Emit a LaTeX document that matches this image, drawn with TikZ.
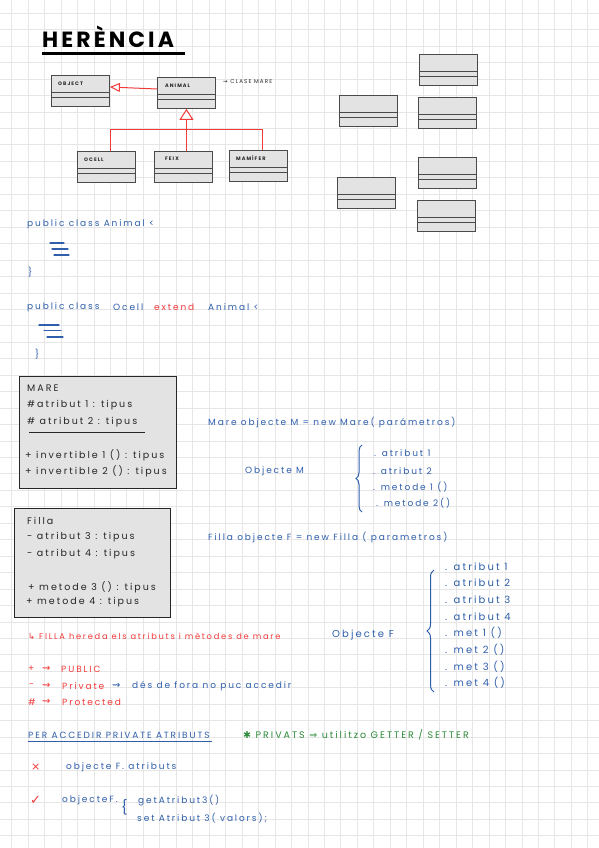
\documentclass[tikz,border=0pt]{standalone}
\usepackage{fontspec}
\setmainfont{Poppins}
\newfontfamily\hand[LetterSpace=21]{Poppins}
\newfontfamily\titlefont[LetterSpace=14]{Poppins}
\newfontfamily\sym{DejaVu Sans}
\usetikzlibrary{arrows.meta,calc,decorations.pathreplacing}
\definecolor{inkblue}{HTML}{2F5FAA}
\definecolor{inkred}{HTML}{F23A3A}
\definecolor{inkgreen}{HTML}{2E8B3A}
\definecolor{inkdark}{HTML}{262626}
\definecolor{gridc}{HTML}{E6E6E6}
\definecolor{boxfill}{HTML}{E3E3E3}
\definecolor{boxline}{HTML}{4A4A4A}
\newcommand\umlbox[3]{%
  \node[uml] (#1) at (#2,#3) {};
  \draw[boxline, line width=0.8pt] ($(#1.north west)+(0,17)$) -- ($(#1.north east)+(0,17)$);
  \draw[boxline, line width=0.8pt] ($(#1.north west)+(0,22)$) -- ($(#1.north east)+(0,22)$);
}
\begin{document}
\begin{tikzpicture}[x=1pt,y=-1pt,
  base/.style={inner sep=0pt, anchor=west, font=\hand\fontsize{9}{11}\selectfont},
  btxt/.style={base, text=inkblue},
  rtxt/.style={base, text=inkred},
  gtxt/.style={base, text=inkgreen},
  ktxt/.style={base, text=inkdark, font=\hand\fontsize{9.5}{11}\selectfont},
  listtxt/.style={btxt, font=\hand\fontsize{10}{12}\selectfont},
  squig/.style={inner sep=0pt, anchor=west, font=\sym\fontsize{10}{11}\selectfont},
  uml/.style={draw=boxline, fill=boxfill, line width=0.9pt, minimum width=58pt, minimum height=31pt, anchor=north west, inner sep=0pt},
  umllabel/.style={inner sep=0pt, anchor=west, text=inkdark, font=\hand\fontsize{5}{6}\selectfont\bfseries},
  bigbox/.style={draw=inkdark, fill=boxfill, line width=1.3pt, anchor=north west, inner sep=0pt},
  inherit/.style={inkred, line width=1pt},
  scribble/.style={inkblue, line width=1.1pt, line cap=round},
]
\useasboundingbox (0,0) rectangle (599,848);
\fill[white] (0,0) rectangle (599,848);
% grid
\foreach \i in {0,...,35} \draw[gridc, line width=0.9pt] ({11.7+16.46*\i},0) -- ({11.7+16.46*\i},848);
\foreach \j in {0,...,50} \draw[gridc, line width=0.9pt] (0,{13.3+16.45*\j}) -- (599,{13.3+16.45*\j});

% title
\node[inner sep=0pt, anchor=west, font=\titlefont\bfseries\fontsize{22}{24}\selectfont] (title) at (42,37) {HERÈNCIA};
\draw[line width=3pt] ($(title.south west)+(0,6)$) -- ($(title.south west)+(143,6)$);

% UML diagram
\umlbox{object}{51}{75}
\umlbox{animal}{157}{77}
\umlbox{ocell}{77}{151}
\umlbox{feix}{154}{151}
\umlbox{mamifer}{229}{150}
\node[umllabel] (objectl) at ($(object.north west)+(7,9)$) {OBJECT};
\node[umllabel] (animall) at ($(animal.north west)+(8,9)$) {ANIMAL};
\node[umllabel] (ocelll) at ($(ocell.north west)+(7,9)$) {OCELL};
\node[umllabel] (feixl) at ($(feix.north west)+(11,8)$) {FEIX};
\node[umllabel] (mamiferl) at ($(mamifer.north west)+(7,8)$) {MAMÍFER};
\node[umllabel, font=\hand\fontsize{5.5}{6}\selectfont] (clasemare) at (223,82) {{\sym ⇝} CLASE MARE};
\draw[inherit, -{Triangle[open, length=10pt, width=9pt]}] ($(animal.north west)+(0,12)$) -- ($(object.north east)+(0,12)$);
\coordinate (jn) at ($(animal.south)+(0,21)$);
\draw[inherit] ($(ocell.north)+(4,0)$) |- (jn) -| ($(mamifer.north)+(4,0)$);
\draw[inherit, -{Triangle[open, length=11pt, width=14pt]}] (animal.south |- feix.north) -- (animal.south);

% empty boxes on the right
\umlbox{ba}{419}{54}
\umlbox{bb}{339}{95}
\umlbox{bc}{418}{97}
\umlbox{bd}{418}{157}
\umlbox{be}{337}{177}
\umlbox{bf}{417}{200}

% code
\node[btxt] (pc1) at (27,224) {public class Animal <};
\draw[scribble] (50,243) -- (64,243);
\draw[scribble] (52,249) -- (68,249);
\draw[scribble] (54,255) -- (69,255);
\node[btxt] (cb1) at (28,272) {\}};
\node[btxt] (pc2a) at (27,307) {public class};
\node[btxt] (pc2b) at (113,307) {Ocell};
\node[rtxt] (pc2c) at (154,307) {extend};
\node[btxt] (pc2d) at (208,307) {Animal <};
\draw[scribble] (39,325) -- (59,325);
\draw[scribble] (44,330.5) -- (61,330.5);
\draw[scribble] (47,337) -- (63,337);
\node[btxt] (cb2) at (35,354) {\}};

% Mare class
\node[bigbox, minimum width=157pt, minimum height=112pt] (mare) at (19,376) {};
\node[ktxt] (m1) at (27,388) {MARE};
\node[ktxt] (m2) at (27,405) {\#atribut 1 : tipus};
\node[ktxt] (m3) at (27,422) {\# atribut 2 : tipus};
\draw[inkdark, line width=1pt] (29,432) -- (145,432);
\node[ktxt] (m4) at (25,455) {+ invertible 1 () : tipus};
\node[ktxt] (m5) at (25,471) {+ invertible 2 () : tipus};

\node[btxt] (newm) at (208,422) {Mare objecte M = new Mare( parámetros)};
\node[btxt] (objm) at (245,471) {Objecte M};
\node[btxt] (om1) at (374,453) {. atribut 1};
\node[btxt] (om2) at (373,471) {. atribut 2};
\node[btxt] (om3) at (373,487) {. metode 1 ()};
\node[btxt] (om4) at (376,503) {. metode 2()};
\draw[inkblue, line width=1pt, decorate, decoration={brace, amplitude=6pt}] (362,512) -- (362,445);

% Filla class
\node[bigbox, minimum width=156pt, minimum height=109pt] (filla) at (14,508) {};
\node[ktxt] (f1) at (27,521) {Filla};
\node[ktxt] (f2) at (27,537) {- atribut 3 : tipus};
\node[ktxt] (f3) at (27,554) {- atribut 4 : tipus};
\node[ktxt] (f4) at (28,587) {+ metode 3 () : tipus};
\node[ktxt] (f5) at (26,602) {+ metode 4 : tipus};

\node[btxt] (newf) at (208,537) {Filla objecte F = new Filla ( parametros)};
\node[btxt, font=\hand\fontsize{10}{12}\selectfont] (objf) at (332,635) {Objecte F};
\node[listtxt] (of1) at (445,567) {. atribut 1};
\node[listtxt] (of2) at (445,583) {. atribut 2};
\node[listtxt] (of3) at (445,600) {. atribut 3};
\node[listtxt] (of4) at (445,617) {. atribut 4};
\node[listtxt] (of5) at (445,633) {. met 1 ()};
\node[listtxt] (of6) at (445,650) {. met 2 ()};
\node[listtxt] (of7) at (445,667) {. met 3 ()};
\node[listtxt] (of8) at (445,683) {. met 4 ()};
\draw[inkblue, line width=1pt, decorate, decoration={brace, amplitude=7pt}] (434,692) -- (434,570);

% notes
\node[rtxt, font=\hand\fontsize{8.3}{10}\selectfont] (herencia) at (28,636) {{\sym ↳} FILLA hereda els atributs i mètodes de mare};
\node[rtxt] (pubs) at (28,669) {+};
\node[squig, text=inkred] (puba) at (42,669) {⇝};
\node[rtxt] (pubw) at (61,669) {PUBLIC};
\node[rtxt] (privs) at (29,686) {-};
\node[squig, text=inkred] (priva) at (42,686) {⇝};
\node[rtxt] (privw) at (62,686) {Private};
\node[squig, text=inkblue] (privb) at (112,686) {⇝};
\node[btxt] (privnote) at (132,686) {dés de fora no puc accedir};
\node[rtxt] (prots) at (28,702) {\#};
\node[squig, text=inkred] (prota) at (42,702) {⇝};
\node[rtxt] (protw) at (62,702) {Protected};

\node[btxt] (per) at (28,735) {PER ACCEDIR PRIVATE ATRIBUTS};
\draw[inkblue, line width=1.2pt] ($(per.south west)+(0,3)$) -- ($(per.south east)+(2,3)$);
\node[gtxt, font=\hand\fontsize{9.5}{11}\selectfont] (privats) at (243,735) {{\sym ✱} PRIVATS {\sym ⇒} utilitzo GETTER / SETTER};
\node[rtxt, font=\sym\fontsize{11}{12}\selectfont] (no) at (31,767) {×};
\node[btxt] (bad) at (66,767) {objecte F. atributs};
\node[rtxt, font=\sym\fontsize{13}{14}\selectfont] (yes) at (30,800) {✓};
\node[btxt] (good) at (62,800) {objecteF.};
\node[btxt, font=\hand\fontsize{14}{16}\selectfont] (gbrace) at (121,807) {\{};
\node[btxt] (get) at (138,801) {getAtribut3()};
\node[btxt] (set) at (137,818) {set Atribut 3( valors);};
\end{tikzpicture}
\end{document}
